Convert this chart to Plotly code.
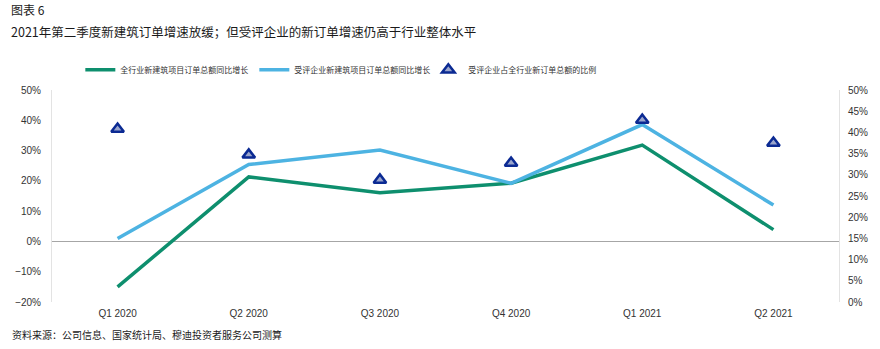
import plotly.graph_objects as go

categories = ["Q1 2020", "Q2 2020", "Q3 2020", "Q4 2020", "Q1 2021", "Q2 2021"]
industry_growth = [-0.150, 0.213, 0.161, 0.192, 0.318, 0.039]
rated_growth = [0.010, 0.254, 0.302, 0.192, 0.386, 0.120]
rated_share = [0.408, 0.347, 0.288, 0.328, 0.429, 0.375]

names = ["全行业新建筑项目订单总额同比增长", "受评企业新建筑项目订单总额同比增长", "受评企业占全行业新订单总额的比例"]

GREEN = "#0E8F6E"
BLUE = "#4DB3E2"
NAVY = "#0B2A93"
TICK_FONT = dict(family="Liberation Sans, Arial, sans-serif", size=10, color="#333333")
CJK = "Noto Sans CJK SC, sans-serif"

fig = go.Figure()
fig.add_trace(go.Scatter(x=categories, y=industry_growth, name=names[0], mode="lines",
                         line=dict(color=GREEN, width=3.5)))
fig.add_trace(go.Scatter(x=categories, y=rated_growth, name=names[1], mode="lines",
                         line=dict(color=BLUE, width=3.5)))
fig.add_trace(go.Scatter(x=categories, y=rated_share, name=names[2], mode="markers", yaxis="y2",
                         marker=dict(symbol="triangle-up", size=11, color="#9AA5CC",
                                     line=dict(color=NAVY, width=2.5))))

fig.update_layout(
    width=880, height=349,
    margin=dict(l=52, r=39, t=90, b=47),
    paper_bgcolor="white", plot_bgcolor="white",
    showlegend=True,
    legend=dict(orientation="h", x=0.036, xanchor="left", y=1.095, yanchor="middle",
                entrywidth=129, entrywidthmode="pixels",
                font=dict(family=CJK, size=8, color="#333333"),
                bgcolor="rgba(0,0,0,0)"),
    xaxis=dict(type="category", range=[-0.5, 5.5], showgrid=False, showline=False, zeroline=False,
               tickfont=TICK_FONT, ticks="", ticklabelstandoff=4),
    yaxis=dict(range=[-0.2, 0.5], dtick=0.1, tickformat=".0%", showgrid=False,
               zeroline=True, zerolinecolor="#A6A6A6", zerolinewidth=1,
               showline=True, linecolor="#E3E3E3", linewidth=1,
               tickfont=TICK_FONT, ticks="", ticklabelstandoff=8),
    yaxis2=dict(range=[0, 0.5], dtick=0.05, tickformat=".0%", overlaying="y", side="right",
                showgrid=False, zeroline=False, showline=True, linecolor="#E3E3E3", linewidth=1,
                tickfont=TICK_FONT, ticks="", ticklabelstandoff=6),
)

fig.add_annotation(text="图表 6",
                   xref="paper", yref="paper", x=0, y=1, xanchor="left", yanchor="top", align="left",
                   xshift=-42, yshift=90, showarrow=False, borderpad=0,
                   font=dict(family=CJK, size=12, color="#1A1A1A"))
fig.add_annotation(text="2021年第二季度新建筑订单增速放缓；但受评企业的新订单增速仍高于行业整体水平",
                   xref="paper", yref="paper", x=0, y=1, xanchor="left", yanchor="top", align="left",
                   xshift=-42, yshift=69, showarrow=False, borderpad=0,
                   font=dict(family=CJK, size=12.5, color="#1A1A1A"))
fig.add_annotation(text="资料来源：公司信息、国家统计局、穆迪投资者服务公司测算",
                   xref="paper", yref="paper", x=0, y=0, xanchor="left", yanchor="middle",
                   xshift=-42, yshift=-32, showarrow=False,
                   font=dict(family=CJK, size=10, color="#1A1A1A"))

fig.write_html("out.html")
